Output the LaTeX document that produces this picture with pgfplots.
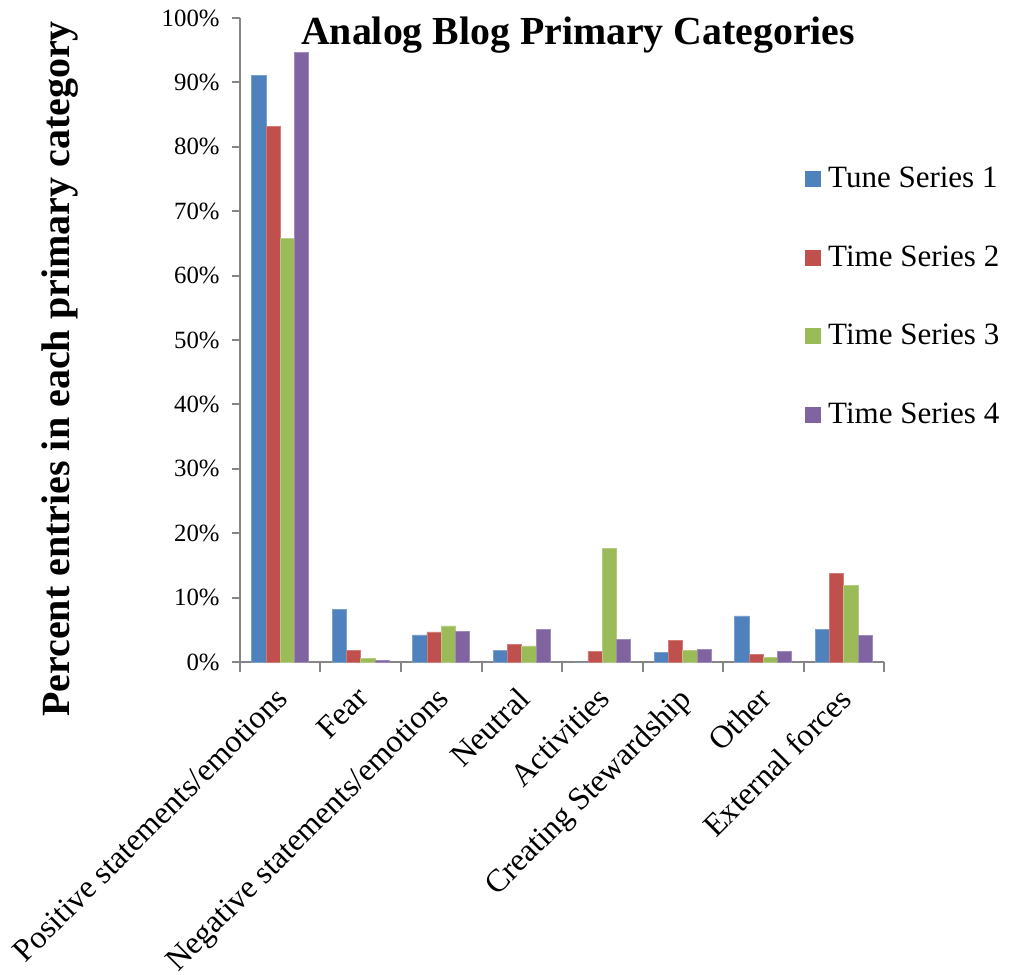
\documentclass[border=0pt]{standalone}
\usepackage{pgfplots}
\pgfplotsset{compat=1.18}
\usepackage{fontspec}
\setmainfont{Liberation Serif}
\definecolor{c1}{HTML}{4F81BD}
\definecolor{c2}{HTML}{C0504D}
\definecolor{c3}{HTML}{9BBB59}
\definecolor{c4}{HTML}{8064A2}
\definecolor{axisgray}{HTML}{868686}
\begin{document}
\begin{tikzpicture}
\begin{axis}[
  scale only axis, width=322pt, height=322pt,
  at={(0,0)}, anchor=south west,
  xmin=-0.5, xmax=7.5, ymin=0, ymax=100,
  ybar=0pt, bar width=7.15pt,
  axis x line*=bottom, axis y line*=left,
  axis line style={draw=axisgray, line width=1pt, -},
  tick align=outside,
  tick style={draw=axisgray, line width=1pt},
  major tick length=4pt,
  xtick={0,...,7},
  major x tick style={draw=none},
  minor xtick={-0.5,0.5,...,7.5},
  minor tick length=5pt,
  xticklabels={Positive statements/emotions, Fear, Negative statements/emotions, Neutral, Activities, Creating Stewardship, Other, External forces},
  xticklabel style={xshift=-3pt, yshift=-6pt, rotate=45, anchor=north east, inner sep=1pt, font=\fontsize{16}{18}\selectfont},
  ytick={0,10,...,100},
  yticklabel={\pgfmathprintnumber{\tick}\%},
  yticklabel style={font=\fontsize{12.4}{14}\selectfont, inner sep=2pt, xshift=-4pt},
  /pgf/number format/assume math mode=true,
  ylabel={Percent entries in each primary category},
  ylabel style={at={(axis description cs:-0.28,0.455)}, anchor=center, font=\bfseries\fontsize{20}{24}\selectfont},
  title={Analog Blog Primary Categories},
  title style={at={(rel axis cs:0.525,1)}, anchor=north, inner sep=0pt, yshift=-5pt, font=\bfseries\fontsize{19.9}{24}\selectfont},
  legend style={at={(rel axis cs:0.877,0.775)}, anchor=north west, draw=none, fill=none, inner sep=0pt,
    font=\fontsize{15.5}{18}\selectfont, row sep=23.5pt,
    /tikz/every odd column/.append style={column sep=1.5pt}},
  legend cell align=left,
  legend image code/.code={\fill[#1,draw=none] (0pt,-4pt) rectangle (8pt,4pt);},
]
\addplot[fill=c1, draw=c1!75!white, line width=0.4pt] coordinates {(0,91.1) (1,8.1) (2,4.2) (3,1.75) (4,0) (5,1.5) (6,7.15) (7,5.1)};
\addplot[fill=c2, draw=c2!75!white, line width=0.4pt] coordinates {(0,83.2) (1,1.75) (2,4.66) (3,2.75) (4,1.65) (5,3.35) (6,1.2) (7,13.8)};
\addplot[fill=c3, draw=c3!75!white, line width=0.4pt] coordinates {(0,65.8) (1,0.5) (2,5.6) (3,2.5) (4,17.6) (5,1.85) (6,0.75) (7,11.9)};
\addplot[fill=c4, draw=c4!75!white, line width=0.4pt] coordinates {(0,94.6) (1,0.2) (2,4.8) (3,5.1) (4,3.5) (5,2.0) (6,1.7) (7,4.1)};
\legend{Tune Series 1, Time Series 2, Time Series 3, Time Series 4}
\end{axis}
\pgfresetboundingbox
\path (-120pt,-156pt) rectangle (385pt,331pt);
\end{tikzpicture}
\end{document}
